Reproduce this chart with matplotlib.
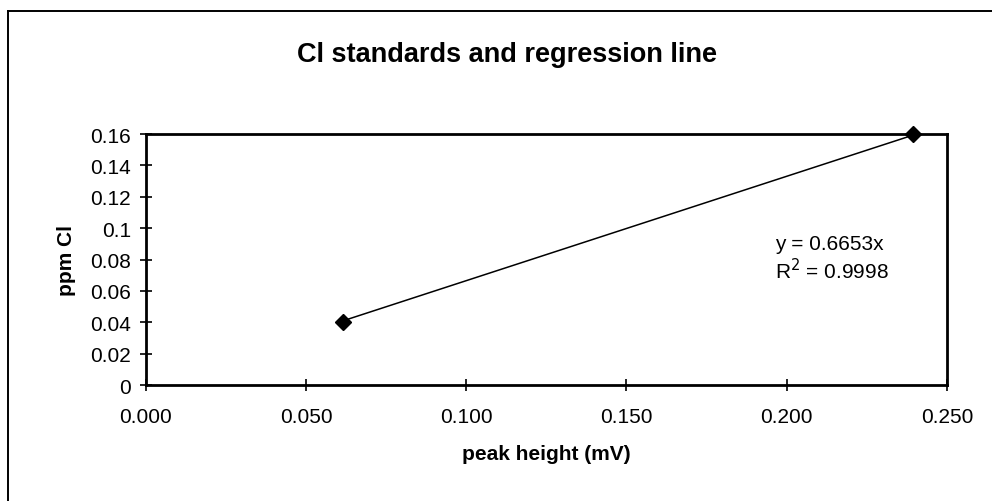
import numpy as np
import matplotlib.pyplot as plt
from matplotlib.lines import Line2D

plt.rcParams['font.family'] = ['Liberation Sans', 'DejaVu Sans']

# Chloride standards: peak height (mV) vs concentration (ppm)
peak_height = [0.0615, 0.2395]
ppm_cl = [0.04, 0.16]
slope = 0.6653
r_squared = 0.9998

x_ticks = [0.000, 0.050, 0.100, 0.150, 0.200, 0.250]
y_ticks = [0, 0.02, 0.04, 0.06, 0.08, 0.1, 0.12, 0.14, 0.16]
y_tick_labels = ['0', '0.02', '0.04', '0.06', '0.08', '0.1', '0.12', '0.14', '0.16']

fig = plt.figure(figsize=(9.92, 5.02), dpi=100)
ax = fig.add_axes([0.147, 0.231, 0.8075, 0.5])

# Regression line through the origin, drawn over the range of the standards
x_fit = np.array([min(peak_height), max(peak_height)])
ax.plot(x_fit, slope * x_fit, color='black', lw=1.1, zorder=2)
ax.plot(peak_height, ppm_cl, linestyle='none', marker='D', markersize=8,
        color='black', zorder=3, clip_on=False)

ax.set_xlim(0, 0.25)
ax.set_ylim(0, 0.16)
ax.set_xticks(x_ticks)
ax.set_xticklabels([f'{t:.3f}' for t in x_ticks])
ax.set_yticks(y_ticks)
ax.set_yticklabels(y_tick_labels)
ax.tick_params(direction='inout', length=9, width=1.2, labelsize=15)
ax.tick_params(axis='y', pad=6)
ax.tick_params(axis='x', pad=11)
for sp in ax.spines.values():
    sp.set_linewidth(2)

ax.set_xlabel('peak height (mV)', fontsize=15, fontweight='bold', labelpad=13)
ax.set_ylabel('ppm Cl', fontsize=15, fontweight='bold', labelpad=10)
fig.text(507 / 992, 1 - 55 / 502, 'Cl standards and regression line', ha='center',
         va='center', fontsize=19.5, fontweight='bold')

ax.text(0.1963, 0.081, f'y = {slope}x\nR$^2$ = {r_squared}', ha='left', va='center',
        fontsize=15, linespacing=1.2)

# Outer chart border (left and top edges)
fig.add_artist(Line2D([8 / 992, 8 / 992], [0, 1 - 12 / 502], color='black', lw=1.4,
                      transform=fig.transFigure))
fig.add_artist(Line2D([8 / 992, 1], [1 - 12 / 502, 1 - 12 / 502], color='black', lw=1.4,
                      transform=fig.transFigure))

fig.savefig('out.png', dpi=100)
